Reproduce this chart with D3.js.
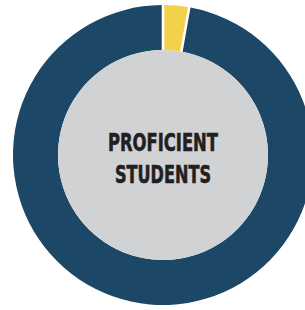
<!DOCTYPE html>
<html>
<head>
<meta charset="utf-8">
<script src="https://cdn.jsdelivr.net/npm/d3@7"></script>
<style>
  body { margin: 0; background: #fff; }
</style>
</head>
<body>
<div id="chart"></div>
<script>
// share of students, proficient vs not
var categories = ["Proficient", "Not proficient"];
var values = [2.8, 97.2];
var colors = ["#f3d24b", "#1c4766"];
var labelLines = ["PROFICIENT", "STUDENTS"];

var width = 305, height = 310;
var cx = 163, cy = 155;
var outerR = 150, innerR = 105;

var svg = d3.select("#chart").append("svg")
    .attr("width", width)
    .attr("height", height);

var g = svg.append("g").attr("transform", "translate(" + cx + "," + cy + ")");

var pie = d3.pie().sort(null).value(function (d) { return d; });
var arc = d3.arc().innerRadius(innerR).outerRadius(outerR).padAngle(0.014);

var color = d3.scaleOrdinal().domain(categories).range(colors);

g.selectAll("path")
    .data(pie(values))
    .enter()
    .append("path")
    .attr("d", arc)
    .attr("fill", function (d, i) { return color(categories[i]); });

// grey centre disc
g.append("circle")
    .attr("r", innerR)
    .attr("fill", "#d1d2d4");

g.selectAll(".lbl")
    .data(labelLines)
    .enter()
    .append("text")
    .attr("class", "lbl")
    .attr("x", 0)
    .attr("y", function (d, i) { return -4 + i * 32; })
    .attr("text-anchor", "middle")
    .attr("font-family", "'Liberation Sans Narrow', 'DejaVu Sans Condensed', sans-serif")
    .attr("font-weight", "bold")
    .attr("font-size", 25)
    .attr("fill", "#231f20")
    .attr("stroke", "#231f20")
    .attr("stroke-width", 0.6)
    .attr("textLength", function (d, i) { return i === 0 ? 110 : 96; })
    .attr("lengthAdjust", "spacingAndGlyphs")
    .text(function (d) { return d; });
</script>
</body>
</html>
